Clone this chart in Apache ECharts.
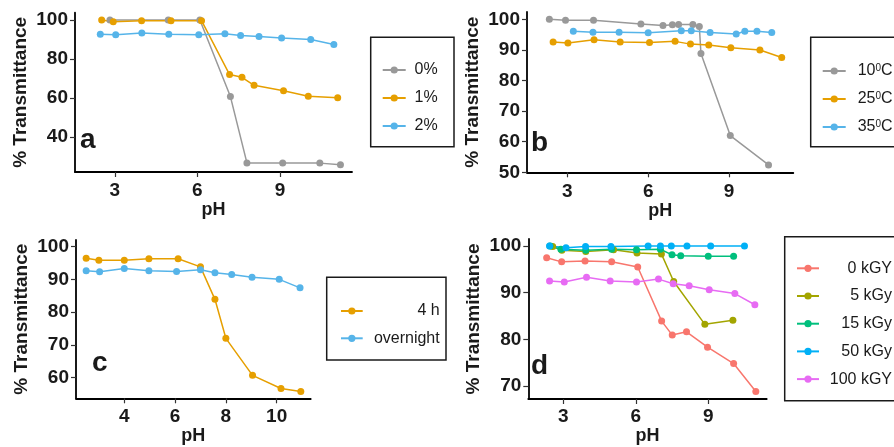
<!DOCTYPE html>
<html>
<head>
<meta charset="utf-8">
<script src="https://cdn.jsdelivr.net/npm/echarts@6/dist/echarts.min.js"></script>
<style>html,body{margin:0;padding:0;background:#fff}#c{width:894px;height:447px}</style>
</head>
<body>
<div id="c"></div>
<script>
// ---------- Panel a (concentration) ----------
const pH_a0 = [2.82, 4.94, 6.09, 7.2, 7.8, 9.1, 10.45, 11.2];
const T_a0  = [100, 100, 100, 60.7, 26.7, 26.6, 26.6, 25.8];
const pH_a1 = [2.52, 2.94, 3.97, 5.04, 6.15, 7.17, 7.62, 8.06, 9.13, 10.03, 11.1];
const T_a1  = [100, 99.1, 99.6, 99.6, 99.6, 72.0, 70.6, 66.5, 63.7, 60.9, 60.1];
const pH_a2 = [2.47, 3.03, 3.98, 4.96, 6.05, 7.0, 7.57, 8.24, 9.06, 10.12, 10.96];
const T_a2  = [92.6, 92.4, 93.3, 92.6, 92.4, 92.9, 92.0, 91.5, 90.7, 90.0, 87.4];
// ---------- Panel b (temperature) ----------
const pH_b10 = [2.33, 2.93, 3.97, 5.73, 6.55, 6.9, 7.13, 7.66, 7.9, 7.96, 9.05, 10.47];
const T_b10  = [100, 99.7, 99.7, 98.5, 98.0, 98.2, 98.3, 98.3, 97.7, 88.8, 62.0, 52.4];
const pH_b25 = [2.47, 3.02, 3.99, 4.96, 6.05, 7.0, 7.57, 8.25, 9.07, 10.15, 10.96];
const T_b25  = [92.6, 92.3, 93.3, 92.6, 92.4, 92.8, 91.9, 91.6, 90.7, 90.0, 87.5];
const pH_b35 = [3.22, 3.95, 4.92, 6.0, 7.23, 7.6, 8.3, 9.27, 9.59, 10.04, 10.59];
const T_b35  = [96.1, 95.8, 95.8, 95.6, 96.3, 96.3, 95.7, 95.2, 96.1, 96.1, 95.7];
// ---------- Panel c (time) ----------
const pH_c4h = [2.5, 3.0, 4.0, 4.97, 6.12, 7.0, 7.57, 8.0, 9.05, 10.17, 10.95];
const T_c4h  = [96.4, 95.8, 95.8, 96.3, 96.3, 93.8, 83.9, 72.0, 60.7, 56.7, 55.8];
const pH_cON = [2.5, 3.03, 4.0, 4.97, 6.06, 7.0, 7.57, 8.23, 9.03, 10.1, 10.92];
const T_cON  = [92.6, 92.3, 93.3, 92.6, 92.4, 92.9, 92.0, 91.5, 90.6, 90.0, 87.4];
// ---------- Panel d (irradiation dose) ----------
const pH_d0   = [2.31, 2.93, 3.9, 5.0, 6.08, 7.07, 7.51, 8.1, 8.97, 10.05, 10.97];
const T_d0    = [97.5, 96.6, 96.8, 96.6, 95.5, 83.9, 80.9, 81.6, 78.3, 74.8, 68.8];
const pH_d5   = [2.56, 2.94, 3.93, 5.08, 6.05, 7.06, 7.57, 8.86, 10.02];
const T_d5    = [99.9, 99.1, 98.8, 99.2, 98.5, 98.3, 92.4, 83.2, 84.1];
const pH_d15  = [2.45, 2.9, 3.93, 5.0, 6.03, 7.02, 7.5, 7.86, 9.0, 10.05];
const T_d15   = [100, 99.3, 99.1, 99.3, 99.2, 99.3, 98.1, 97.9, 97.8, 97.8];
const pH_d50  = [2.43, 3.11, 3.92, 4.97, 6.51, 7.02, 7.47, 8.12, 9.1, 10.5];
const T_d50   = [100, 99.6, 99.9, 99.9, 100, 100, 100, 100, 100, 100];
const pH_d100 = [2.43, 3.04, 3.96, 4.94, 6.03, 6.94, 7.55, 8.21, 9.04, 10.1, 10.93];
const T_d100  = [92.5, 92.3, 93.3, 92.5, 92.3, 92.9, 91.9, 91.5, 90.6, 89.8, 87.4];

// tick labels
const xTicks_a = [3, 6, 9], yTicks_a = [40, 60, 80, 100];
const xTicks_b = [3, 6, 9], yTicks_b = [50, 60, 70, 80, 90, 100];
const xTicks_c = [4, 6, 8, 10], yTicks_c = [60, 70, 80, 90, 100];
const xTicks_d = [3, 6, 9], yTicks_d = [70, 80, 90, 100];

const names_a = ['0%', '1%', '2%'];
const names_b = ['10C', '25C', '35C'];
const names_c = ['4 h', 'overnight'];
const names_d = ['0 kGY', '5 kGy', '15 kGy', '50 kGy', '100 kGY'];

const FF = 'Liberation Sans, Arial, Helvetica, sans-serif';
const INK = '#1a1a1a';
const GRAY = '#999999', ORANGE = '#E69F00', SKY = '#56B4E9';

function mk(name, xs, ys, color, gi) {
  return {
    type: 'line', name: name, xAxisIndex: gi, yAxisIndex: gi,
    data: xs.map((x, i) => [x, ys[i]]),
    symbol: 'circle', symbolSize: 7,
    lineStyle: { width: 1.5, color: color },
    itemStyle: { color: color },
    emphasis: { disabled: true },
    animation: false
  };
}

function xAx(gi, min, max, ticks, nameGap, margin) {
  return {
    type: 'value', gridIndex: gi, min: min, max: max,
    name: 'pH', nameLocation: 'middle', nameGap: nameGap,
    nameTextStyle: { fontFamily: FF, fontWeight: 'bold', fontSize: 18, color: INK },
    axisLine: { show: true, onZero: false, lineStyle: { color: '#000', width: 1.8 } },
    axisTick: { show: true, length: 5, lineStyle: { color: '#333', width: 1.2 }, customValues: ticks },
    axisLabel: { customValues: ticks, margin: margin, fontFamily: FF, fontWeight: 'bold', fontSize: 19, color: INK },
    splitLine: { show: false }
  };
}
function yAx(gi, min, max, ticks) {
  return {
    type: 'value', gridIndex: gi, min: min, max: max,
    name: '% Transmittance', nameLocation: 'middle', nameGap: 45,
    nameTextStyle: { fontFamily: FF, fontWeight: 'bold', fontSize: 19, color: INK },
    axisLine: { show: true, onZero: false, lineStyle: { color: '#000', width: 1.8 } },
    axisTick: { show: true, length: 5, lineStyle: { color: '#333', width: 1.2 }, customValues: ticks },
    axisLabel: { customValues: ticks, margin: 7, fontFamily: FF, fontWeight: 'bold', fontSize: 19, color: INK },
    splitLine: { show: false }
  };
}

function legendRight(names, left, top, gap, iw, tw, fmt) {
  return {
    data: names, orient: 'vertical', left: left, top: top,
    itemWidth: iw, itemHeight: 9, itemGap: gap, padding: 0,
    selectedMode: false,
    textStyle: {
      color: INK, fontFamily: FF, fontSize: 16,
      rich: {
        t: { width: tw, align: 'right', fontSize: 16, lineHeight: 16, fontFamily: FF, color: INK },
        sp: { width: 7, lineHeight: 16 },
        n: { fontSize: 16, lineHeight: 16, fontFamily: FF, color: INK },
        s: { fontSize: 10, lineHeight: 16, fontFamily: FF, color: INK, verticalAlign: 'top' }
      }
    },
    formatter: fmt || (n => '{t|' + n + '}')
  };
}

const chart = echarts.init(document.getElementById('c'), null, { renderer: 'canvas' });
chart.setOption({
  backgroundColor: '#ffffff',
  animation: false,
  grid: [
    { left: 75, top: 12.7, width: 277, height: 159.3, outerBoundsMode: 'none' },
    { left: 527, top: 12, width: 266.3, height: 160.3, outerBoundsMode: 'none' },
    { left: 76, top: 240, width: 234.7, height: 158.3, outerBoundsMode: 'none' },
    { left: 528.3, top: 239, width: 238.4, height: 160, outerBoundsMode: 'none' }
  ],
  xAxis: [
    xAx(0, 1.55, 11.62, xTicks_a, 29, 9.5),
    xAx(1, 1.5, 11.39, xTicks_b, 29, 9.5),
    xAx(2, 2.1, 11.34, xTicks_c, 23.5, 8.5),
    xAx(3, 1.55, 11.42, xTicks_d, 22, 8.5)
  ],
  yAxis: [
    yAx(0, 22.05, 103.7, yTicks_a),
    yAx(1, 50, 102.4, yTicks_b),
    yAx(2, 53.7, 102, yTicks_c),
    yAx(3, 67.2, 101.5, yTicks_d)
  ],
  legend: [
    legendRight(names_a, 381.7, 62, 12, 23, 27),
    legendRight(names_b, 821.7, 63, 12, 23, 45, n => '{sp|}{n|' + n.replace('C', '') + '}{s|0}{n|C}'),
    legendRight(names_c, 340, 303, 11.3, 21.7, 72),
    legendRight(names_d, 796, 260.3, 11.7, 22, 68)
  ],
  graphic: [
    { type: 'rect', shape: { x: 370.7, y: 37.3, width: 83.3, height: 109.4 }, style: { fill: 'none', stroke: INK, lineWidth: 1.5 } },
    { type: 'rect', shape: { x: 810.7, y: 37.3, width: 100, height: 109.4 }, style: { fill: 'none', stroke: INK, lineWidth: 1.5 } },
    { type: 'rect', shape: { x: 326.7, y: 277.3, width: 119.3, height: 82.7 }, style: { fill: 'none', stroke: INK, lineWidth: 1.5 } },
    { type: 'rect', shape: { x: 784.7, y: 236.7, width: 120, height: 164 }, style: { fill: 'none', stroke: INK, lineWidth: 1.5 } },
    { type: 'text', x: 80, y: 140, style: { text: 'a', fontFamily: FF, fontWeight: 'bold', fontSize: 28, fill: INK, verticalAlign: 'middle' } },
    { type: 'text', x: 531, y: 143, style: { text: 'b', fontFamily: FF, fontWeight: 'bold', fontSize: 28, fill: INK, verticalAlign: 'middle' } },
    { type: 'text', x: 92, y: 363.7, style: { text: 'c', fontFamily: FF, fontWeight: 'bold', fontSize: 28, fill: INK, verticalAlign: 'middle' } },
    { type: 'text', x: 531, y: 366, style: { text: 'd', fontFamily: FF, fontWeight: 'bold', fontSize: 28, fill: INK, verticalAlign: 'middle' } }
  ],
  series: [
    mk(names_a[0], pH_a0, T_a0, GRAY, 0),
    mk(names_a[1], pH_a1, T_a1, ORANGE, 0),
    mk(names_a[2], pH_a2, T_a2, SKY, 0),
    mk(names_b[0], pH_b10, T_b10, GRAY, 1),
    mk(names_b[1], pH_b25, T_b25, ORANGE, 1),
    mk(names_b[2], pH_b35, T_b35, SKY, 1),
    mk(names_c[0], pH_c4h, T_c4h, ORANGE, 2),
    mk(names_c[1], pH_cON, T_cON, SKY, 2),
    mk(names_d[0], pH_d0, T_d0, '#F8766D', 3),
    mk(names_d[1], pH_d5, T_d5, '#A3A500', 3),
    mk(names_d[2], pH_d15, T_d15, '#00BF7D', 3),
    mk(names_d[3], pH_d50, T_d50, '#00B0F6', 3),
    mk(names_d[4], pH_d100, T_d100, '#E76BF3', 3)
  ]
});
</script>
</body>
</html>
